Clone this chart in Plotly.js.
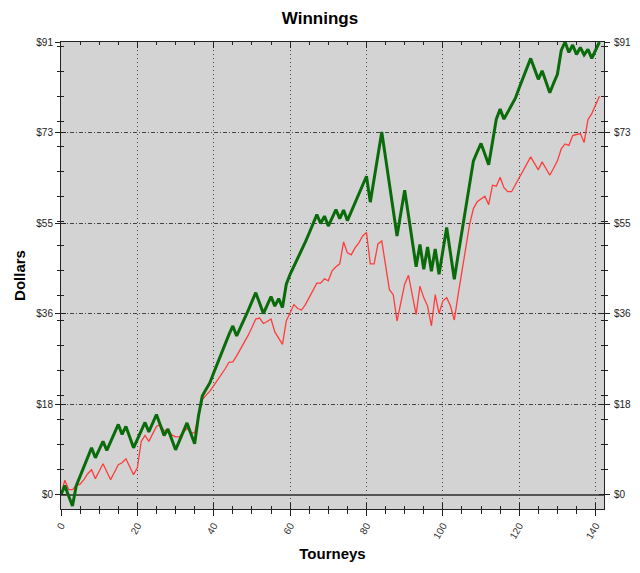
<!DOCTYPE html>
<html>
<head>
<meta charset="utf-8">
<script src="https://cdn.plot.ly/plotly-3.0.1.min.js"></script>
<style>html,body{margin:0;padding:0;background:#fff;}#chart{width:640px;height:573px;}</style>
</head>
<body>
<div id="chart"></div>
<script>
// Winnings per tourney (index = tourney number, starting at 0)
const greenSeries = [0,1.8,-0.3,-2.3,1.8,3.8,5.6,7.5,9.4,7.4,
 9.0,10.7,8.9,10.6,12.4,14.1,12.1,13.7,11.6,9.4,
 11.1,12.8,14.5,12.6,14.4,16.1,14.0,11.9,13.2,11.1,
 9.0,10.8,12.6,14.4,12.3,10.2,15.8,19.8,21.2,22.5,
 24.5,26.5,28.5,30.5,32.2,33.9,31.9,33.6,35.2,37.0,
 38.8,40.6,38.5,36.4,38.1,39.8,37.9,39.4,37.6,42.3,
 44.3,45.9,47.4,49.0,50.8,52.6,54.5,56.3,54.5,56.0,
 54.0,55.7,57.3,55.5,57.2,55.1,56.9,58.6,60.4,62.2,
 64.0,58.8,63.5,68.2,72.9,67.7,62.5,57.2,52.0,56.6,
 61.2,56.1,50.9,45.8,50.3,45.3,49.8,44.9,49.4,44.3,
 49.0,53.7,48.5,43.3,48.2,53.1,57.9,62.8,67.1,68.9,
 70.6,68.5,66.3,70.9,75.5,77.5,75.5,76.9,78.3,79.7,
 81.8,83.8,85.8,87.7,85.6,83.5,85.2,83.0,80.8,82.7,
 84.5,89.3,91.0,88.9,90.4,88.5,89.9,88.4,89.5,87.7,
 89.3,91.0];

const redSeries = [0,2.9,1.0,1.0,1.8,2.1,3.0,4.2,5.0,3.2,
 4.7,6.2,4.6,3.0,4.5,6.0,6.4,7.2,5.6,4.0,
 5.4,10.7,11.9,10.7,12.2,13.7,14.1,12.8,13.1,12.0,
 11.6,11.6,12.5,13.3,12.4,12.4,15.8,19.1,20.0,20.8,
 21.9,23.0,24.0,25.3,26.6,26.7,27.9,29.2,30.5,32.0,
 33.6,35.3,35.5,34.4,34.8,35.3,32.7,31.4,30.2,34.9,
 36.6,38.2,37.4,37.1,38.2,39.6,41.1,42.5,42.5,43.4,
 43.0,45.0,45.8,46.4,50.8,48.6,48.2,49.6,50.6,52.0,
 52.7,46.4,46.4,50.4,51.0,46.1,41.2,40.2,34.9,38.6,
 42.3,44.1,40.1,36.2,41.9,39.6,37.9,33.9,40.2,36.4,
 38.9,39.6,37.9,35.1,40.2,45.3,49.6,54.3,57.5,58.9,
 59.4,60.0,58.3,62.2,62.0,63.8,61.7,60.9,60.9,62.3,
 63.7,64.9,66.2,67.9,66.6,65.3,66.9,65.6,64.2,65.6,
 67.1,69.5,70.5,70.2,72.2,72.4,72.6,70.8,75.4,76.6,
 78.3,80.1];

const yTickVals = [0, 18.2, 36.4, 54.6, 72.8, 91];
const yTickText = ['$0', '$18', '$36', '$55', '$73', '$91'];
const xTickVals = [0, 20, 40, 60, 80, 100, 120, 140];

const FONT = 'Arial, "Liberation Sans", sans-serif';
const xRange = [0, 142.2];
const yRange = [-2.9, 91];

const traces = [
  {y: redSeries, x0: 0, dx: 1, type: 'scatter', mode: 'lines',
   line: {color: '#ff3b3b', width: 1.3}, hoverinfo: 'skip', showlegend: false},
  {y: greenSeries, x0: 0, dx: 1, type: 'scatter', mode: 'lines',
   line: {color: '#0a6b0a', width: 3}, hoverinfo: 'skip', showlegend: false},
  {y: [], x: [], type: 'scatter', mode: 'lines', xaxis: 'x2', yaxis: 'y2',
   hoverinfo: 'skip', showlegend: false}
];

const layout = {
  width: 640, height: 573,
  paper_bgcolor: '#ffffff',
  plot_bgcolor: '#d3d3d3',
  margin: {l: 61, r: 36, t: 42, b: 64, pad: 0},
  font: {family: FONT, size: 10, color: '#222'},
  title: {text: '<b>Winnings</b>', x: 0.5, xanchor: 'center', y: 0.968, yanchor: 'middle',
          yref: 'container', font: {family: FONT, size: 17, color: '#000'}},
  xaxis: {
    range: xRange, tickvals: xTickVals, tickangle: -60,
    ticks: 'outside', ticklen: 6, tickcolor: '#222', tickwidth: 1,
    showline: true, linecolor: '#222', linewidth: 1, mirror: true,
    showgrid: true, gridcolor: '#444', griddash: '1px,3px', gridwidth: 1.2,
    zeroline: false,
    minor: {dtick: 5, ticks: 'outside', ticklen: 4, tickcolor: '#222', showgrid: false},
    tickfont: {family: FONT, size: 10, color: '#333'},
    title: {text: '<b>Tourneys</b>', font: {family: FONT, size: 15, color: '#000'}, standoff: 8}
  },
  xaxis2: {
    range: xRange, overlaying: 'x', tickvals: xTickVals,
    ticks: 'inside', ticklen: 6, tickcolor: '#222', mirror: 'allticks',
    showticklabels: false, showgrid: false, zeroline: false, showline: false,
    minor: {dtick: 5, ticks: 'inside', ticklen: 3, tickcolor: '#222', showgrid: false}
  },
  yaxis: {
    range: yRange, tickvals: yTickVals, ticktext: yTickText,
    ticks: 'outside', ticklen: 5, tickcolor: '#222', mirror: 'allticks',
    showline: true, linecolor: '#222', linewidth: 1,
    showgrid: true, gridcolor: '#444', griddash: '4px,2px,1px,2px', gridwidth: 1,
    zeroline: true, zerolinecolor: '#555', zerolinewidth: 2,
    minor: {dtick: 5, ticks: 'outside', ticklen: 3, tickcolor: '#222', showgrid: false},
    tickfont: {family: FONT, size: 10, color: '#222'},
    title: {text: '<b>Dollars</b>', font: {family: FONT, size: 15, color: '#000'}, standoff: 7}
  },
  yaxis2: {
    range: yRange, overlaying: 'y', side: 'right', anchor: 'x2',
    tickvals: yTickVals, ticktext: yTickText,
    ticks: 'inside', ticklen: 5, tickcolor: '#222', mirror: 'allticks',
    showline: false, showgrid: false, zeroline: false, ticklabelstandoff: 9,
    minor: {dtick: 5, ticks: 'inside', ticklen: 3, tickcolor: '#222', showgrid: false},
    tickfont: {family: FONT, size: 10, color: '#222'}
  }
};

Plotly.newPlot('chart', traces, layout, {displayModeBar: false, staticPlot: true});
</script>
</body>
</html>
